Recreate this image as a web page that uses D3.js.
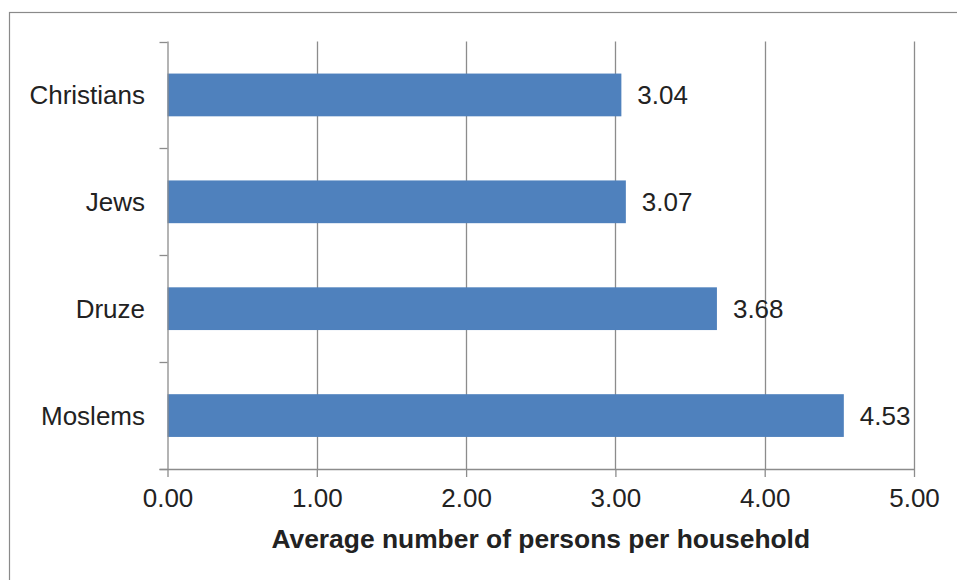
<!DOCTYPE html>
<html>
<head>
<meta charset="utf-8">
<script src="https://cdn.jsdelivr.net/npm/d3@7"></script>
<style>
  html, body { margin: 0; padding: 0; background: #ffffff; }
  svg { display: block; }
  text { font-family: "Liberation Sans", Arial, sans-serif; fill: #222222; }
</style>
</head>
<body>
<svg id="chart" width="957" height="580"></svg>
<script>
// Average household size by religion
const categories = ["Christians", "Jews", "Druze", "Moslems"];
const values = [3.04, 3.07, 3.68, 4.53];
const xTickValues = [0, 1, 2, 3, 4, 5];
const axisTitle = "Average number of persons per household";

const W = 957, H = 580;
const plot = { left: 167.5, right: 914, top: 41.5, bottom: 469 };
const gridColor = "#8c8c8c";
const barColor = "#4f81bd";

const svg = d3.select("#chart");

// Outer chart frame (runs off the right and bottom edges)
svg.append("rect")
  .attr("x", 9.5).attr("y", 12.5)
  .attr("width", W + 10).attr("height", H + 10)
  .attr("fill", "#ffffff")
  .attr("stroke", "#8a8a8a").attr("stroke-width", 1.2);

const x = d3.scaleLinear().domain([0, 5]).range([plot.left, plot.right]);
const y = d3.scaleBand().domain(categories)
  .range([plot.top, plot.bottom])
  .paddingInner(0.6).paddingOuter(0.3);

// Vertical gridlines
svg.append("g").selectAll("line")
  .data(xTickValues.filter(v => v > 0))
  .join("line")
  .attr("x1", d => Math.round(x(d)) + 0.5).attr("x2", d => Math.round(x(d)) + 0.5)
  .attr("y1", plot.top).attr("y2", plot.bottom)
  .attr("stroke", gridColor).attr("stroke-width", 1.3);

// Bars
svg.append("g").selectAll("rect")
  .data(categories)
  .join("rect")
  .attr("x", x(0))
  .attr("y", d => y(d))
  .attr("width", (d, i) => x(values[i]) - x(0))
  .attr("height", y.bandwidth())
  .attr("fill", barColor);

// X axis: line, ticks and labels
const xAxis = d3.axisBottom(x)
  .tickValues(xTickValues)
  .tickFormat(d3.format(".2f"))
  .tickSize(8)
  .tickPadding(12)
  .tickSizeOuter(0);
const gx = svg.append("g")
  .attr("transform", `translate(0,${plot.bottom})`)
  .call(xAxis);
gx.select(".domain").remove();
gx.selectAll(".tick line").attr("stroke", gridColor).attr("stroke-width", 1.3);
gx.selectAll(".tick text")
  .attr("font-size", 26).attr("fill", "#222222")
  .attr("font-family", "'Liberation Sans', Arial, sans-serif");
svg.append("line")
  .attr("x1", plot.left - 8).attr("x2", plot.right + 0.5)
  .attr("y1", plot.bottom + 0.5).attr("y2", plot.bottom + 0.5)
  .attr("stroke", gridColor).attr("stroke-width", 1.3);

// Y axis: line and ticks at the category boundaries
const boundaries = categories.map(c => y(c) - y.step() * y.paddingInner() / 2)
  .concat([plot.bottom]);
svg.append("line")
  .attr("x1", plot.left + 0.5).attr("x2", plot.left + 0.5)
  .attr("y1", plot.top).attr("y2", plot.bottom)
  .attr("stroke", gridColor).attr("stroke-width", 1.3);
svg.append("g").selectAll("line")
  .data(boundaries)
  .join("line")
  .attr("x1", plot.left - 8).attr("x2", plot.left)
  .attr("y1", d => Math.round(d) + 0.5).attr("y2", d => Math.round(d) + 0.5)
  .attr("stroke", gridColor).attr("stroke-width", 1.3);

// Category labels
svg.append("g").selectAll("text")
  .data(categories)
  .join("text")
  .attr("x", 145)
  .attr("y", d => y(d) + y.bandwidth() / 2 + 9)
  .attr("text-anchor", "end")
  .attr("font-size", 26)
  .text(d => d);

// Value labels beside bars
svg.append("g").selectAll("text")
  .data(categories)
  .join("text")
  .attr("x", (d, i) => x(values[i]) + 16)
  .attr("y", d => y(d) + y.bandwidth() / 2 + 9)
  .attr("font-size", 26)
  .text((d, i) => d3.format(".2f")(values[i]));

// Axis title
svg.append("text")
  .attr("x", (plot.left + plot.right) / 2)
  .attr("y", 548)
  .attr("text-anchor", "middle")
  .attr("font-size", 26.4)
  .attr("font-weight", "bold")
  .attr("fill", "#0d0d0d")
  .text(axisTitle);
</script>
</body>
</html>
